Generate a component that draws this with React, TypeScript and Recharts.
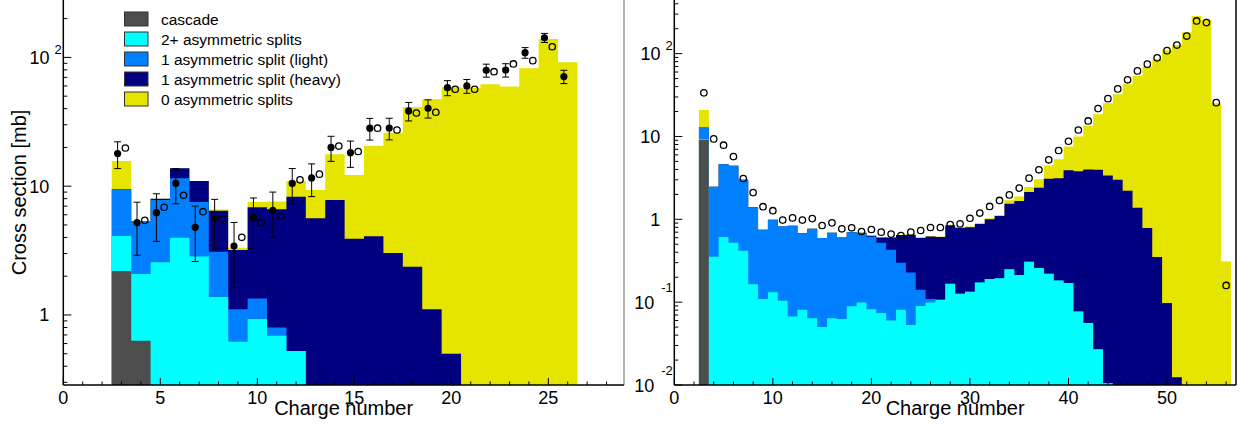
import React from 'react';
import { ComposedChart, Area, Scatter, ErrorBar, XAxis, YAxis, ReferenceLine, Label } from 'recharts';

const FONT = '"Liberation Sans", Arial, Helvetica, sans-serif';

// stack order, bottom -> top
const seriesNames = ['cascade', '2+ asymmetric splits', '1 asymmetric split (light)', '1 asymmetric split (heavy)', '0 asymmetric splits'];
const seriesColors = ['#4d4d4d', '#00ffff', '#0080ff', '#000080', '#e5e500'];

// ---- left panel: histograms (Z = 3..26)
const zLeft = [3, 4, 5, 6, 7, 8, 9, 10, 11, 12, 13, 14, 15, 16, 17, 18, 19, 20, 21, 22, 23, 24, 25, 26];
const cascadeL = [2.2, 0.63, 0, 0, 0, 0, 0, 0, 0, 0, 0, 0, 0, 0, 0, 0, 0, 0, 0, 0, 0, 0, 0, 0];
const asym2L = [1.9, 1.45, 2.57, 3.98, 2.84, 1.38, 0.62, 0.93, 0.69, 0.525, 0, 0, 0, 0, 0, 0, 0, 0, 0, 0, 0, 0, 0, 0];
const asym1LightL = [5.36, 3.29, 5.24, 7.52, 4.7, 1.72, 0.49, 0.41, 0.11, 0, 0, 0, 0, 0, 0, 0, 0, 0, 0, 0, 0, 0, 0, 0];
const asym1HeavyL = [0, 0, 0.19, 2.3, 3.43, 3.35, 2.09, 5.52, 5.82, 7.76, 5.63, 7.81, 3.91, 4.08, 3.03, 2.37, 1.11, 0.5, 0, 0, 0, 0, 0, 0];
const asym0L = [6.24, 0, 0, 0, 0, 0.15, 0.13, 0.68, 0.98, 2.68, 3.71, 9.89, 8.29, 16.5, 23.0, 38.8, 46.2, 58.1, 58.0, 61.8, 59.3, 82.3, 139, 91.6];

// left panel: measurements (filled) and calculation (open)
const zMeasL = [3, 4, 5, 6, 7, 8, 9, 10, 11, 12, 13, 14, 15, 16, 17, 18, 19, 20, 21, 22, 23, 24, 25, 26];
const measL = [17.9, 5.21, 6.23, 10.5, 4.8, 5.6, 3.43, 5.7, 6.5, 10.5, 11.6, 20.0, 18.2, 28.2, 28.3, 38.4, 40.3, 58.2, 60, 79.4, 79.8, 108.8, 142, 71];
const measErrL = [4.2, 2.3, 2.5, 3.2, 2.2, 2.3, 1.8, 2.4, 2.5, 3.2, 3.3, 4.4, 4.2, 5.4, 5.4, 6.3, 6.5, 7.8, 7.4, 9.2, 9.5, 10.3, 11.5, 8.4];
const zCalcL = [3, 4, 5, 6, 7, 8, 9, 10, 11, 12, 13, 14, 15, 16, 17, 18, 19, 20, 21, 22, 23, 24, 25];
const calcL = [19.8, 5.43, 6.86, 8.5, 6.34, 5.56, 4.01, 5.21, 5.84, 11.2, 12.4, 20.5, 18.6, 28.2, 27.3, 37.0, 37.5, 56.6, 56.6, 77.4, 88.9, 94.3, 121];

// ---- right panel: histograms (Z = 3..56)
const zRight = [3, 4, 5, 6, 7, 8, 9, 10, 11, 12, 13, 14, 15, 16, 17, 18, 19, 20, 21, 22, 23, 24, 25, 26, 27, 28, 29,
  30, 31, 32, 33, 34, 35, 36, 37, 38, 39, 40, 41, 42, 43, 44, 45, 46, 47, 48, 49, 50, 51, 52, 53, 54, 55, 56];
const cascadeR = [9.1, 0, 0, 0, 0, 0, 0, 0, 0, 0, 0, 0, 0, 0, 0, 0, 0, 0, 0, 0, 0, 0, 0, 0, 0, 0, 0,
  0, 0, 0, 0, 0, 0, 0, 0, 0, 0, 0, 0, 0, 0, 0, 0, 0, 0, 0, 0, 0, 0, 0, 0, 0, 0, 0];
const asym2R = [0.2, 0.353, 0.61, 0.52, 0.417, 0.165, 0.109, 0.132, 0.104, 0.067, 0.081, 0.064, 0.05, 0.064, 0.0625, 0.089, 0.099, 0.082, 0.074, 0.06, 0.081, 0.053, 0.09, 0.099, 0.107, 0.167, 0.126,
  0.134, 0.173, 0.19, 0.195, 0.25, 0.212, 0.307, 0.258, 0.22, 0.183, 0.17, 0.077, 0.056, 0.027, 0.0105, 0, 0, 0, 0, 0, 0, 0, 0, 0, 0, 0, 0];
const asym1LightR = [3.5, 2.12, 4.02, 3.9, 2.58, 1.235, 0.638, 0.854, 0.716, 0.768, 0.599, 0.704, 0.543, 0.623, 0.548, 0.611, 0.581, 0.533, 0.446, 0.369, 0.218, 0.175, 0.051, 0.01, 0, 0, 0,
  0, 0, 0, 0, 0, 0, 0, 0, 0, 0, 0, 0, 0, 0, 0, 0, 0, 0, 0, 0, 0, 0, 0, 0, 0, 0, 0];
const asym1HeavyR = [0, 0, 0, 0, 0, 0, 0, 0, 0, 0, 0, 0, 0, 0, 0, 0, 0.01, 0.017, 0.083, 0.174, 0.346, 0.422, 0.452, 0.511, 0.503, 0.683, 0.664,
  0.666, 0.707, 0.81, 0.905, 1.29, 1.448, 1.823, 2.142, 2.86, 2.957, 3.75, 3.733, 3.934, 3.933, 3.37, 3.0, 2.21, 1.38, 0.783, 0.35, 0.0975, 0.0124, 0, 0, 0, 0, 0];
const asym0R = [8.1, 0, 0, 0, 0, 0, 0, 0, 0, 0, 0, 0, 0, 0, 0, 0, 0, 0.005, 0.005, 0.005, 0.005, 0.008, 0.017, 0.01, 0.01, 0.01, 0.01,
  0.02, 0.02, 0.03, 0.03, 0.16, 0.22, 0.32, 0.65, 1.37, 2.18, 3.63, 6.18, 9.41, 14.64, 21.8, 29.4, 40.5, 52.6, 68.9, 85.0, 110, 127, 181, 285, 254, 25.2, 0.31];

// right panel: calculation (open)
const calcR = [33.6, 9.35, 7.85, 5.72, 3.11, 2.1, 1.42, 1.27, 0.978, 1.04, 0.978, 1.02, 0.842, 0.907, 0.768, 0.79, 0.713, 0.753, 0.7, 0.663, 0.638, 0.7, 0.733, 0.796, 0.796, 0.866, 0.882,
  1.03, 1.19, 1.43, 1.69, 1.97, 2.38, 3.14, 3.96, 5.23, 6.77, 8.76, 11.97, 15.4, 21.7, 28.6, 37.5, 48.3, 61.9, 74.6, 88.9, 108.6, 127, 163, 248, 237, 25.6, 0.159];

// ---- axes
const xTicksL = [0, 1, 2, 3, 4, 5, 6, 7, 8, 9, 10, 11, 12, 13, 14, 15, 16, 17, 18, 19, 20, 21, 22, 23, 24, 25, 26, 27, 28];
const xMajorL = [0, 5, 10, 15, 20, 25];
const xTicksR = [0, 2, 4, 6, 8, 10, 12, 14, 16, 18, 20, 22, 24, 26, 28, 30, 32, 34, 36, 38, 40, 42, 44, 46, 48, 50, 52, 54, 56];
const xMajorR = [0, 10, 20, 30, 40, 50];
const yTicksL = [0.3, 0.4, 0.5, 0.6, 0.7, 0.8, 0.9, 1, 2, 3, 4, 5, 6, 7, 8, 9, 10, 20, 30, 40, 50, 60, 70, 80, 90, 100, 200];
const yTicksR = [0.01, 0.02, 0.03, 0.04, 0.05, 0.06, 0.07, 0.08, 0.09, 0.1, 0.2, 0.3, 0.4, 0.5, 0.6, 0.7, 0.8, 0.9,
  1, 2, 3, 4, 5, 6, 7, 8, 9, 10, 20, 30, 40, 50, 60, 70, 80, 90, 100, 200, 300, 400];
const yLabelsL = [{ v: 1, base: '1' }, { v: 10, base: '10' }, { v: 100, base: '10', exp: '2' }];
const yLabelsR = [{ v: 0.01, base: '10', exp: '-2' }, { v: 0.1, base: '10', exp: '-1' }, { v: 1, base: '1' }, { v: 10, base: '10' }, { v: 100, base: '10', exp: '2' }];

type YLab = { v: number; base: string; exp?: string };

function buildSteps(z: number[], layers: number[][], floor: number) {
  const rows: any[] = z.map((zz, i) => {
    let sum = 0;
    const row: any = { x: zz - 0.5 };
    layers.forEach((arr, k) => {
      sum += arr[i];
      row['l' + k] = Math.max(sum, floor);
    });
    return row;
  });
  rows.push({ ...rows[rows.length - 1], x: z[z.length - 1] + 0.5 });
  return rows;
}

const xTick = (major: number[]) => (p: any) => {
  const v = p.payload.value;
  const isMajor = major.includes(v);
  return (
    <g>
      <line x1={p.x} x2={p.x} y1={p.y} y2={p.y - (isMajor ? 7 : 3.5)} stroke="#000" strokeWidth={1} />
      {isMajor ? (
        <text x={p.x} y={p.y + 19} textAnchor="middle" fontSize={18} fontFamily={FONT} fill="#000">{v}</text>
      ) : null}
    </g>
  );
};

const yTick = (labels: YLab[]) => (p: any) => {
  const v = p.payload.value;
  const lab = labels.find((l) => l.v === v);
  return (
    <g>
      <line x1={p.x} x2={p.x + (lab ? 8 : 4)} y1={p.y} y2={p.y} stroke="#000" strokeWidth={1} />
      {lab && lab.exp ? (
        <text x={p.x - 1.5} y={p.y + 6.5} textAnchor="end" fontSize={18} fontFamily={FONT} fill="#000">
          {lab.base}
          <tspan dx={lab.exp.startsWith('-') ? 7 : 5} dy={lab.exp.startsWith('-') ? -16.5 : -10} fontSize={13}>{lab.exp}</tspan>
        </text>
      ) : lab ? (
        <text x={p.x - 14} y={p.y + 6.5} textAnchor="end" fontSize={18} fontFamily={FONT} fill="#000">{lab.base}</text>
      ) : null}
    </g>
  );
};

const axisLine = { stroke: '#000', strokeWidth: 1.5 };

const filledDot = (p: any) => <circle cx={p.cx} cy={p.cy} r={3.6} fill="#000" />;
const openDot = (p: any) => <circle cx={p.cx} cy={p.cy} r={3.2} fill="none" stroke="#000" strokeWidth={1.3} />;

function Panel(props: {
  chartLeft: number; width: number; plotLeft: number; plotRight: number;
  steps: any[]; xDomain: [number, number]; yDomain: [number, number];
  xTicks: number[]; xMajor: number[]; yTicks: number[]; yLabels: YLab[];
  frameColor: string; yTitle?: string; children?: React.ReactNode;
}) {
  const { chartLeft, width, plotLeft, plotRight, steps, xDomain, yDomain } = props;
  const yAxisWidth = 40;
  return (
    <div style={{ position: 'absolute', left: chartLeft, top: 0 }}>
      <ComposedChart
        width={width}
        height={425}
        data={steps}
        margin={{ top: 0, right: chartLeft + width - plotRight, bottom: 0, left: plotLeft - chartLeft - yAxisWidth }}
      >
        <XAxis
          dataKey="x" type="number" domain={xDomain} allowDataOverflow ticks={props.xTicks} interval={0}
          tickSize={0} tickMargin={0} tickLine={false} axisLine={axisLine} height={40} tick={xTick(props.xMajor)}
        >
          <Label
            content={(lp: any) => {
              const vb = lp.viewBox;
              return (
                <text x={vb.x + vb.width / 2} y={vb.y + 30} textAnchor="middle" fontSize={20} fontFamily={FONT} fill="#000">
                  Charge number
                </text>
              );
            }}
          />
        </XAxis>
        <YAxis
          type="number" scale="log" domain={yDomain} allowDataOverflow ticks={props.yTicks} interval={0}
          tickSize={0} tickMargin={0} tickLine={false} axisLine={axisLine} width={yAxisWidth} tick={yTick(props.yLabels)}
        >
          {props.yTitle ? (
            <Label
              content={(lp: any) => {
                const vb = lp.viewBox;
                const cy = vb.y + vb.height / 2;
                return (
                  <text transform={`translate(25.5, ${cy}) rotate(-90)`} textAnchor="middle" fontSize={20} fontFamily={FONT} fill="#000">
                    {props.yTitle}
                  </text>
                );
              }}
            />
          ) : null}
        </YAxis>
        {[4, 3, 2, 1, 0].map((k) => (
          <Area
            key={k}
            dataKey={'l' + k}
            type="stepAfter"
            fill={seriesColors[k]}
            fillOpacity={1}
            stroke="none"
            dot={false}
            activeDot={false}
            isAnimationActive={false}
          />
        ))}
        <ReferenceLine x={xDomain[1]} stroke={props.frameColor} strokeWidth={1.5} />
        {props.children}
      </ComposedChart>
    </div>
  );
}

export default function App() {
  const yDomL: [number, number] = [0.286, 279];
  const yDomR: [number, number] = [0.01, 444];
  const stepsL = buildSteps(zLeft, [cascadeL, asym2L, asym1LightL, asym1HeavyL, asym0L], yDomL[0]);
  const stepsR = buildSteps(zRight, [cascadeR, asym2R, asym1LightR, asym1HeavyR, asym0R], yDomR[0]);
  const measRows = zMeasL.map((z, i) => ({ x: z - 0.2, y: measL[i], err: measErrL[i] }));
  const calcRowsL = zCalcL.map((z, i) => ({ x: z + 0.2, y: calcL[i] }));
  const calcRowsR = zRight.map((z, i) => ({ x: z, y: calcR[i] }));

  return (
    <div style={{ position: 'absolute', left: 0, top: 0, width: 1243, height: 425, background: '#fff', fontFamily: FONT }}>
      <Panel
        chartLeft={0} width={630} plotLeft={63.3} plotRight={624}
        steps={stepsL} xDomain={[0, 28.9]} yDomain={yDomL}
        xTicks={xTicksL} xMajor={xMajorL} yTicks={yTicksL} yLabels={yLabelsL}
        frameColor="#9a9a9a" yTitle="Cross section [mb]"
      >
        <Scatter data={measRows} dataKey="y" shape={filledDot} isAnimationActive={false}>
          <ErrorBar dataKey="err" direction="y" width={3.5} stroke="#000" strokeWidth={1} />
        </Scatter>
        <Scatter data={calcRowsL} dataKey="y" shape={openDot} isAnimationActive={false} />
      </Panel>
      <Panel
        chartLeft={630} width={613} plotLeft={674.3} plotRight={1236}
        steps={stepsR} xDomain={[0, 57]} yDomain={yDomR}
        xTicks={xTicksR} xMajor={xMajorR} yTicks={yTicksR} yLabels={yLabelsR}
        frameColor="#000"
      >
        <Scatter data={calcRowsR} dataKey="y" shape={openDot} isAnimationActive={false} />
      </Panel>
      <svg style={{ position: 'absolute', left: 0, top: 0, pointerEvents: 'none' }} width={420} height={110}>
        {seriesNames.map((name, i) => (
          <g key={name}>
            <rect x={124.5} y={12 + i * 20} width={23.5} height={14} fill={seriesColors[i]} stroke="#333" strokeWidth={1} />
            <text x={161} y={25 + i * 20} fontSize={15.5} fontFamily={FONT} fill="#000">{name}</text>
          </g>
        ))}
      </svg>
    </div>
  );
}
